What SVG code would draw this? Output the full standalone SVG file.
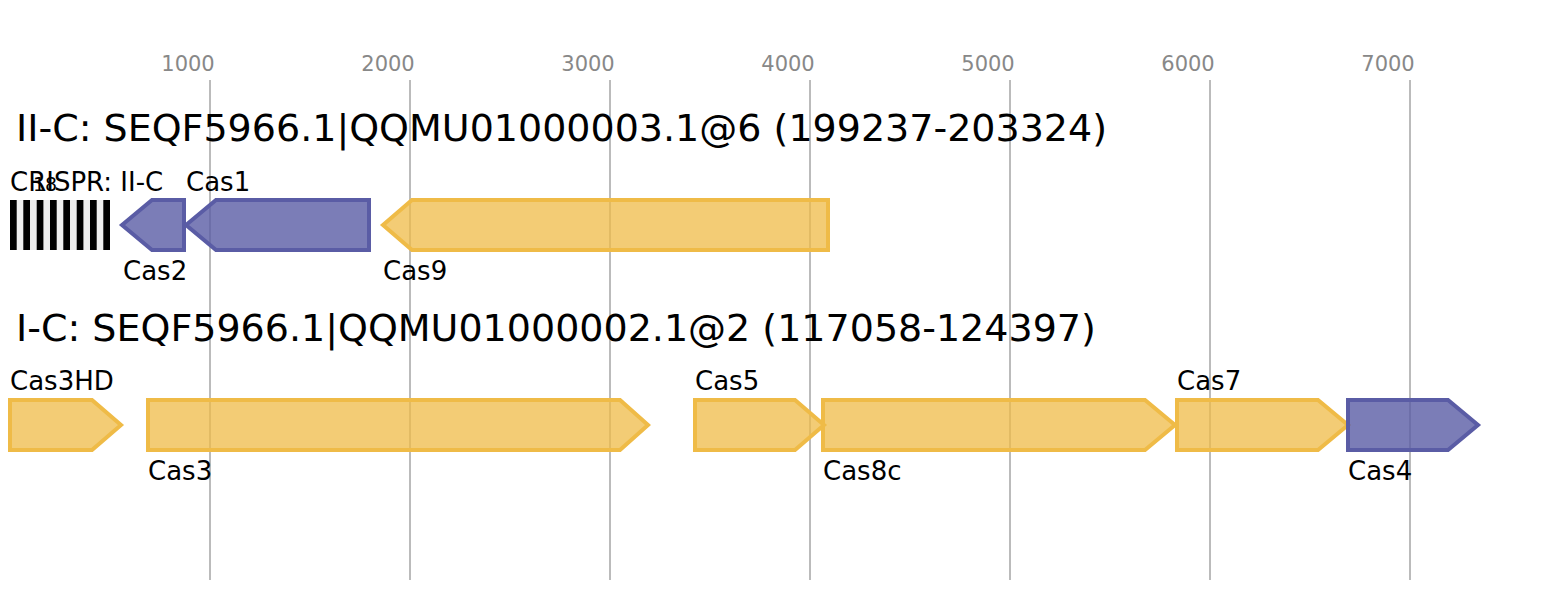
<svg xmlns="http://www.w3.org/2000/svg" width="1568" height="600" viewBox="0 0 1568 600">
<style>
text{font-family:"DejaVu Sans",sans-serif;fill:#000}
.ax{font-size:21px;fill:#888;text-anchor:middle}
.title{font-size:38px}
.lbl{font-size:26px}
.grid{stroke:#bbb;stroke-width:2}
.y{fill:#efbb47;fill-opacity:0.75;stroke:#efbb47;stroke-width:4}
.p{fill:#5a5ca5;fill-opacity:0.8;stroke:#5a5ca5;stroke-width:4}
</style>
<rect width="1568" height="600" fill="#fff"/>
<g id="axis">
<line class="grid" x1="210" y1="80" x2="210" y2="580"/>
<line class="grid" x1="410" y1="80" x2="410" y2="580"/>
<line class="grid" x1="610" y1="80" x2="610" y2="580"/>
<line class="grid" x1="810" y1="80" x2="810" y2="580"/>
<line class="grid" x1="1010" y1="80" x2="1010" y2="580"/>
<line class="grid" x1="1210" y1="80" x2="1210" y2="580"/>
<line class="grid" x1="1410" y1="80" x2="1410" y2="580"/>
<text class="ax" x="188" y="71">1000</text>
<text class="ax" x="388" y="71">2000</text>
<text class="ax" x="588" y="71">3000</text>
<text class="ax" x="788" y="71">4000</text>
<text class="ax" x="988" y="71">5000</text>
<text class="ax" x="1188" y="71">6000</text>
<text class="ax" x="1388" y="71">7000</text>
</g>
<text class="title" x="16" y="141">II-C: SEQF5966.1|QQMU01000003.1@6 (199237-203324)</text>
<text class="title" x="16" y="341">I-C: SEQF5966.1|QQMU01000002.1@2 (117058-124397)</text>
<g id="crispr">
<rect x="10" y="200" width="100" height="50" fill="#eee"/>
<g fill="#000">
<rect x="10" y="200" width="6.7" height="50"/>
<rect x="23.3" y="200" width="6.7" height="50"/>
<rect x="36.7" y="200" width="6.7" height="50"/>
<rect x="50" y="200" width="6.7" height="50"/>
<rect x="63.3" y="200" width="6.7" height="50"/>
<rect x="76.7" y="200" width="6.7" height="50"/>
<rect x="90" y="200" width="6.7" height="50"/>
<rect x="103.3" y="200" width="6.7" height="50"/>
</g>
<text class="lbl" x="10" y="191">CRISPR: II-C</text>
<text x="33" y="191" font-size="19">18</text>
</g>
<g id="cas2"><polygon class="p" points="122,225 152,200 184,200 184,250 152,250"/><text class="lbl" x="123" y="280">Cas2</text></g>
<g id="cas1"><polygon class="p" points="186,225 216,200 369,200 369,250 216,250"/><text class="lbl" x="186" y="191">Cas1</text></g>
<g id="cas9"><polygon class="y" points="383,225 412,200 828,200 828,250 412,250"/><text class="lbl" x="383" y="280">Cas9</text></g>
<g id="cas3hd"><polygon class="y" points="10,400 92,400 121,425 92,450 10,450"/><text class="lbl" x="10" y="390">Cas3HD</text></g>
<g id="cas3"><polygon class="y" points="148,400 620,400 648,425 620,450 148,450"/><text class="lbl" x="148" y="480">Cas3</text></g>
<g id="cas5"><polygon class="y" points="695,400 795,400 824,425 795,450 695,450"/><text class="lbl" x="695" y="390">Cas5</text></g>
<g id="cas8c"><polygon class="y" points="823,400 1145,400 1175,425 1145,450 823,450"/><text class="lbl" x="823" y="480">Cas8c</text></g>
<g id="cas7"><polygon class="y" points="1177,400 1318,400 1348,425 1318,450 1177,450"/><text class="lbl" x="1177" y="390">Cas7</text></g>
<g id="cas4"><polygon class="p" points="1348,400 1448,400 1478,425 1448,450 1348,450"/><text class="lbl" x="1348" y="480">Cas4</text></g>
<g id="connectors"/>
</svg>
